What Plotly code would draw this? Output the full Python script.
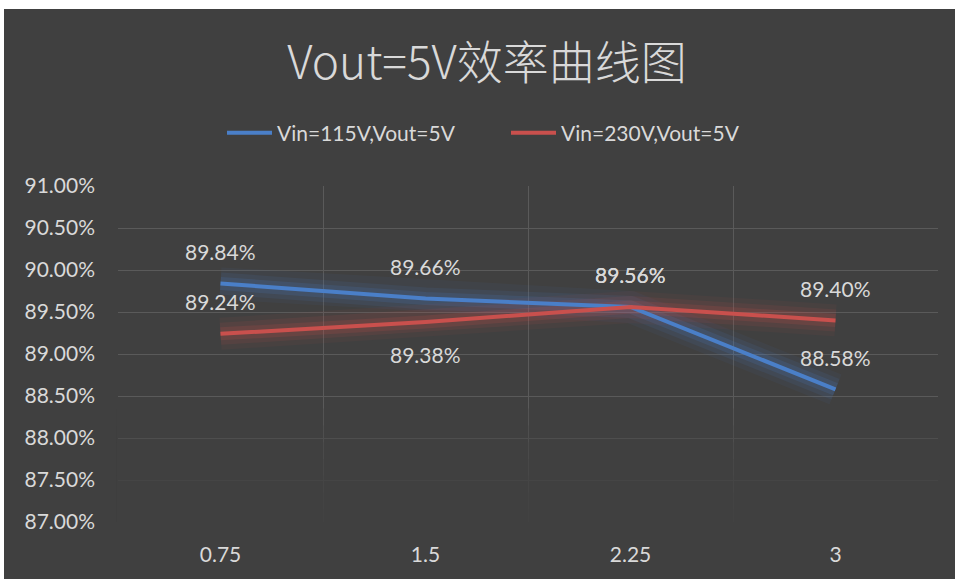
import plotly.graph_objects as go

categories = ["0.75", "1.5", "2.25", "3"]
vin115 = [0.8984, 0.8966, 0.8956, 0.8858]
vin230 = [0.8924, 0.8938, 0.8956, 0.8940]
label_pos_115 = ["top", "top", "top", "top"]
label_pos_230 = ["top", "bottom", "top", "top"]
series_names = ["Vin=115V,Vout=5V", "Vin=230V,Vout=5V"]
title_text = "Vout=5V效率曲线图"

BG = "#404040"
TXT = "#d9d9d9"
BLUE = "#4a7fc8"
RED = "#c9504d"
GRID = "#5a5a5a"
FONT = "Lato, 'Noto Sans', sans-serif"

# page offset of the figure (body margin set below): left 4, top 9
W, H = 951, 570
ML, MR, MT, MB = 114, 17, 177, 57

fig = go.Figure()

for vals, col in [(vin115, BLUE), (vin230, RED)]:
    for w, op in [(32, 0.06), (22, 0.10), (13, 0.16)]:
        fig.add_trace(go.Scatter(x=categories, y=vals, mode="lines",
                                 line=dict(color=col, width=w),
                                 opacity=op, showlegend=False, hoverinfo="skip"))

for vals, col, name in [(vin115, BLUE, series_names[0]), (vin230, RED, series_names[1])]:
    fig.add_trace(go.Scatter(x=categories, y=vals, mode="lines", name=name,
                             line=dict(color=col, width=4)))

for vals, pos in [(vin115, label_pos_115), (vin230, label_pos_230)]:
    for i, (v, p) in enumerate(zip(vals, pos)):
        fig.add_annotation(x=i, y=v, xref="x", yref="y", text=f"{v*100:.2f}%", showarrow=False,
                           yshift=32 if p == "top" else -32,
                           font=dict(family=FONT, size=21, color=TXT))

# fade the gridlines toward the bottom of the plot (gradient gridlines)
fade_tops = [0.8835, 0.8815, 0.8795, 0.8775, 0.8755, 0.8735, 0.8715]
for t in fade_tops:
    fig.add_shape(type="rect", xref="paper", yref="y", x0=-0.002, x1=1.002, y0=0.8690, y1=t,
                  fillcolor="rgba(64,64,64,0.25)", line_width=0, layer="above")

fig.update_layout(
    width=W, height=H,
    margin=dict(l=ML, r=MR, t=MT, b=MB),
    paper_bgcolor=BG, plot_bgcolor=BG,
    font=dict(family=FONT, size=21, color=TXT),
    title=dict(text=title_text, x=483 / W, xref="container", xanchor="center",
               y=1 - 54 / H, yref="container", yanchor="middle",
               font=dict(family="'Noto Sans CJK SC', sans-serif", size=46, color=TXT, weight=300)),
    legend=dict(orientation="h", x=218 / W, xref="container", xanchor="left",
                y=1 - 124 / H, yref="container", yanchor="middle",
                font=dict(family=FONT, size=21, color=TXT), bgcolor="rgba(0,0,0,0)",
                itemwidth=45, entrywidth=224, entrywidthmode="pixels"),
    showlegend=True,
)
fig.update_xaxes(type="category", tickson="boundaries", showgrid=True, gridcolor=GRID,
                 gridwidth=1, ticks="", showline=False, zeroline=False,
                 range=[-0.5, 3.5], ticklabelstandoff=18,
                 tickfont=dict(family=FONT, size=21, color=TXT))
fig.update_yaxes(range=[0.87, 0.91], dtick=0.005, tick0=0.87, tickformat=".2%",
                 showgrid=True, gridcolor=GRID, gridwidth=1, zeroline=False,
                 showline=False, ticks="", ticklabelstandoff=22,
                 tickfont=dict(family=FONT, size=21, color=TXT))

fig.write_html("out.html",
               post_script="document.body.style.margin='9px 0 0 4px';document.body.style.background='#ffffff';")
